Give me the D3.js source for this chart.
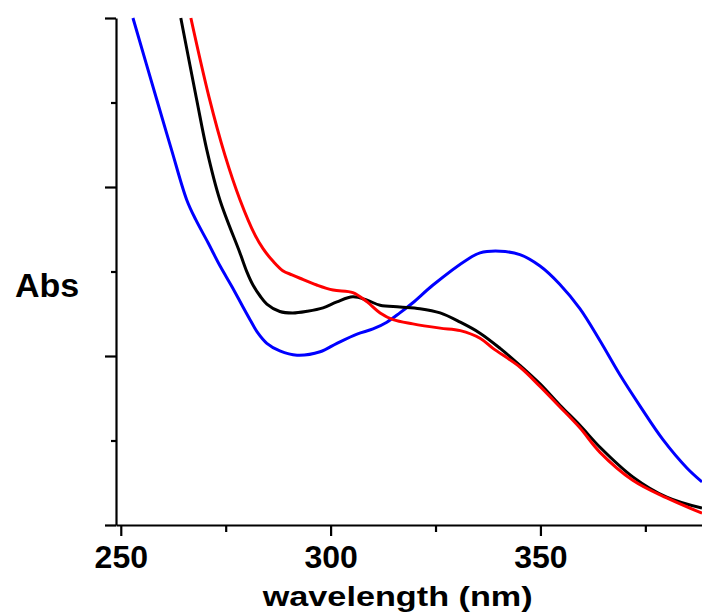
<!DOCTYPE html>
<html>
<head>
<meta charset="utf-8">
<script src="https://cdn.jsdelivr.net/npm/d3@7"></script>
<style>
  html, body { margin: 0; padding: 0; background: #fff; }
  svg { display: block; }
  text { font-family: "Liberation Sans", Arial, Helvetica, sans-serif; font-weight: bold; fill: #000; }
</style>
</head>
<body>
<svg id="chart" width="702" height="614"></svg>
<script>
// ---- data (wavelength nm, absorbance) ----
const blueWl  = [252.9, 258.6, 262.1, 265.7, 267.9, 270.8, 273.6, 276.5, 278.9, 280.8, 282.7, 284.8, 287.9, 292.0, 297.5, 301.5, 306.3, 310.1, 313.4, 316.5, 319.6, 324.4, 332.5, 335.6, 340.4, 345.1, 349.9, 354.6, 359.4, 364.2, 368.9, 373.7, 379.2, 384.9, 388.5];
const blueAbs = [0.600, 0.503, 0.444, 0.385, 0.361, 0.334, 0.307, 0.282, 0.260, 0.243, 0.227, 0.215, 0.206, 0.201, 0.205, 0.215, 0.226, 0.232, 0.240, 0.251, 0.263, 0.284, 0.314, 0.322, 0.324, 0.320, 0.3065, 0.285, 0.256, 0.218, 0.178, 0.141, 0.101, 0.0675, 0.051];

const blackWl  = [264.3, 268.1, 270.5, 273.6, 278.4, 280.1, 281.5, 283.2, 284.8, 287.9, 291.0, 294.4, 298.2, 301.5, 305.3, 308.7, 311.8, 316.5, 321.3, 326.1, 330.9, 335.6, 340.4, 345.1, 349.9, 354.6, 359.4, 364.2, 372.0, 380.1, 388.5];
const blackAbs = [0.600, 0.503, 0.444, 0.385, 0.322, 0.299, 0.284, 0.271, 0.2615, 0.2527, 0.251, 0.253, 0.257, 0.264, 0.270, 0.266, 0.260, 0.258, 0.256, 0.251, 0.240, 0.227, 0.209, 0.189, 0.167, 0.142, 0.118, 0.092, 0.057, 0.033, 0.020];

const redWl  = [266.7, 271.0, 274.8, 278.4, 282.0, 283.9, 286.3, 288.6, 290.8, 292.7, 296.7, 300.6, 305.3, 308.7, 311.8, 314.9, 319.6, 326.1, 330.9, 335.6, 338.7, 345.1, 349.9, 354.6, 359.4, 364.2, 372.0, 380.1, 388.5];
const redAbs = [0.600, 0.507, 0.438, 0.385, 0.343, 0.327, 0.312, 0.301, 0.296, 0.292, 0.284, 0.278, 0.275, 0.264, 0.251, 0.243, 0.238, 0.233, 0.230, 0.221, 0.209, 0.187, 0.164, 0.140, 0.115, 0.086, 0.053, 0.032, 0.014];

const xMajorTicks = [250, 300, 350];
const xMinorTicks = [275, 325, 375];
const yMajorTicks = [0, 0.2, 0.4, 0.6];
const yMinorTicks = [0.1, 0.3, 0.5];

const xLabel = "wavelength (nm)";
const yLabel = "Abs";

// ---- layout ----
const svg = d3.select("#chart");
const mLeft = 116, mRight = 702, mTop = 18, mBottom = 525;

const x = d3.scaleLinear().domain([248.86, 388.5]).range([mLeft, mRight]);
const y = d3.scaleLinear().domain([0, 0.6]).range([mBottom, mTop]);

// clip
svg.append("defs").append("clipPath").attr("id", "plotClip")
  .append("rect").attr("x", mLeft).attr("y", mTop - 2).attr("width", mRight - mLeft).attr("height", mBottom - mTop + 2);

const series = [
  { wl: blueWl,  ab: blueAbs,  color: "#0000ff" },
  { wl: blackWl, ab: blackAbs, color: "#000000" },
  { wl: redWl,   ab: redAbs,   color: "#ff0000" }
];

const line = d3.line()
  .x(d => x(d[0]))
  .y(d => y(d[1]))
  .curve(d3.curveCatmullRom.alpha(0.5));

const g = svg.append("g").attr("clip-path", "url(#plotClip)");
series.forEach(s => {
  const pts = s.wl.map((w, i) => [w, s.ab[i]]);
  g.append("path")
    .datum(pts)
    .attr("fill", "none")
    .attr("stroke", s.color)
    .attr("stroke-width", 3)
    .attr("stroke-linejoin", "round")
    .attr("d", line);
});

// ---- axes ----
function styleAxis(sel) {
  sel.selectAll("path.domain").attr("stroke", "#000").attr("stroke-width", 2.2);
  sel.selectAll(".tick line").attr("stroke", "#000").attr("stroke-width", 2.2);
}

// x minor
svg.append("g").attr("transform", `translate(0,${mBottom})`)
  .call(d3.axisBottom(x).tickValues(xMinorTicks).tickSize(7).tickSizeOuter(0).tickFormat(""))
  .call(styleAxis)
  .call(s => s.select("path.domain").remove());

// x major
const xAx = svg.append("g").attr("transform", `translate(0,${mBottom})`)
  .call(d3.axisBottom(x).tickValues(xMajorTicks).tickSize(11).tickSizeOuter(0).tickPadding(9).tickFormat(d3.format("d")))
  .call(styleAxis);
xAx.attr("font-family", null).attr("font-size", null);
xAx.selectAll(".tick text").attr("font-size", 32);

// y minor
svg.append("g").attr("transform", `translate(${mLeft},0)`)
  .call(d3.axisLeft(y).tickValues(yMinorTicks).tickSize(5).tickSizeOuter(0).tickFormat(""))
  .call(styleAxis)
  .call(s => s.select("path.domain").remove());

// y major
svg.append("g").attr("transform", `translate(${mLeft},0)`)
  .call(d3.axisLeft(y).tickValues(yMajorTicks).tickSize(11).tickSizeOuter(0).tickFormat(""))
  .call(styleAxis);

// ---- labels ----
svg.append("text")
  .attr("x", 262.7).attr("y", 606)
  .attr("font-size", 28)
  .attr("textLength", 270)
  .attr("lengthAdjust", "spacingAndGlyphs")
  .text(xLabel);

svg.append("text")
  .attr("x", 15).attr("y", 296.5)
  .attr("font-size", 34)
  .text(yLabel);
</script>
</body>
</html>
